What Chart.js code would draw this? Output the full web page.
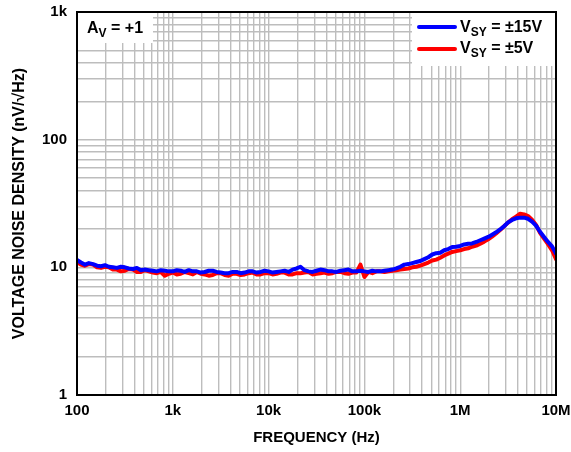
<!DOCTYPE html>
<html><head><meta charset="utf-8">
<script src="https://cdn.jsdelivr.net/npm/chart.js@4/dist/chart.umd.min.js"></script>
<style>html,body{margin:0;padding:0;background:#fff}#wrap{width:571px;height:452px;position:relative}</style>
</head><body><div id="wrap"><canvas id="c" width="571" height="452"></canvas></div>
<script>
const freqHz = [
 100,110,121,133,147,162,178,196,215,237,261,287,316,348,383,422,464,511,562,619,681,750,825,909,
 1000,1100,1210,1330,1470,1620,1780,1960,2150,2370,2610,2870,3160,3480,3830,4220,4640,5110,5620,6190,6810,7500,8250,9090,
 10000,11000,12100,13300,14700,16200,17800,19600,21500,23700,26100,28700,31600,34800,38300,42200,46400,51100,56200,61900,68100,75000,82500,90900,
 100000,110000,121000,133000,147000,162000,178000,196000,215000,237000,261000,287000,316000,348000,383000,422000,464000,511000,562000,619000,681000,750000,825000,909000,
 1000000,1100000,1210000,1330000,1470000,1620000,1780000,1960000,2150000,2370000,2610000,2870000,3160000,3480000,3830000,4220000,4640000,5110000,5620000,6190000,6810000,7500000,8250000,9090000,
 10000000];
const noise15V = [
 11.4,10.9,10.5,10.8,10.6,10.3,10.2,10.4,10.1,10.0,9.9,10.1,10.0,9.8,9.7,9.9,9.5,9.6,9.5,9.4,9.3,9.5,9.4,9.3,
 9.3,9.5,9.4,9.2,9.5,9.3,9.3,9.1,9.2,9.4,9.4,9.2,9.1,9.0,9.0,9.2,9.2,9.0,9.1,9.3,9.3,9.1,9.2,9.4,
 9.3,9.1,9.2,9.3,9.4,9.2,9.6,9.8,10.1,9.5,9.3,9.2,9.4,9.6,9.5,9.3,9.3,9.2,9.4,9.5,9.6,9.3,9.3,9.4,
 9.3,9.2,9.4,9.3,9.3,9.4,9.5,9.6,9.8,10.1,10.5,10.6,10.8,11.0,11.2,11.6,12.0,12.6,12.9,13.0,13.6,13.9,14.4,14.5,
 14.7,15.1,15.3,15.4,15.8,16.3,16.8,17.3,18.0,18.8,19.8,21.0,22.5,23.5,24.2,24.5,24.5,24.0,22.8,21.2,19.0,17.3,15.8,14.6,
 12.8];
const noise5V = [
 11.0,10.5,10.3,10.6,10.5,10.0,9.9,10.1,10.0,9.6,9.6,9.3,9.4,9.7,9.6,9.2,9.2,9.5,9.3,9.1,9.0,9.2,8.6,8.9,
 9.1,8.8,8.9,9.2,9.0,8.8,9.2,8.9,8.8,8.6,8.7,9.0,9.0,8.7,8.6,8.9,8.9,8.7,8.8,9.0,9.1,8.8,8.8,9.0,
 9.0,8.8,8.9,9.1,9.1,8.8,8.8,9.0,9.0,9.1,9.2,8.8,8.9,9.0,9.1,8.9,9.0,9.2,9.2,9.0,8.9,9.1,9.1,10.5,
 8.4,9.2,9.0,9.3,9.3,9.2,9.3,9.4,9.5,9.6,9.7,9.8,10.0,10.1,10.3,10.6,10.9,11.3,11.5,11.9,12.4,12.8,13.2,13.4,
 13.6,13.9,14.1,14.5,14.8,15.3,15.9,16.6,17.4,18.4,19.6,21.0,22.4,23.8,25.0,26.3,26.0,25.2,23.6,21.5,18.6,16.8,15.2,13.6,
 11.6];
const seriesNames = ['±15V','±5V'];
const xGrid = [100,200,300,400,500,600,700,800,900,1000,2000,3000,4000,5000,6000,7000,8000,9000,
 10000,20000,30000,40000,50000,60000,70000,80000,90000,100000,200000,300000,400000,500000,600000,700000,800000,900000,
 1000000,2000000,3000000,4000000,5000000,6000000,7000000,8000000,9000000,10000000];
const xTickValues = [100,1000,10000,100000,1000000,10000000];
const xTickLabels = ['100','1k','10k','100k','1M','10M'];
const yGrid = [1,2,3,4,5,6,7,8,9,10,20,30,40,50,60,70,80,90,100,200,300,400,500,600,700,800,900,1000];
const yTickValues = [1,10,100,1000];
const yTickLabels = ['1','10','100','1k'];

const FONT = '"Liberation Sans", Arial, Helvetica, sans-serif';

function subText(ctx, x, y, main, sub, rest, size) {
  ctx.font = 'bold ' + size + 'px ' + FONT;
  ctx.fillText(main, x, y);
  let w = ctx.measureText(main).width;
  ctx.font = 'bold ' + Math.round(size * 0.75) + 'px ' + FONT;
  ctx.fillText(sub, x + w, y + 4);
  w += ctx.measureText(sub).width;
  ctx.font = 'bold ' + size + 'px ' + FONT;
  ctx.fillText(rest, x + w, y);
}

const decor = {
  id: 'decor',
  beforeDatasetsDraw(chart) {
    const ctx = chart.ctx, a = chart.chartArea;
    ctx.save();
    ctx.fillStyle = '#fff';
    ctx.fillRect(a.left + 1, a.top + 1, 75, 30);
    ctx.fillRect(a.right - 144, a.top + 1, 143, 53);
    ctx.restore();
  },
  afterDatasetsDraw(chart) {
    const ctx = chart.ctx, a = chart.chartArea;
    ctx.save();
    ctx.strokeStyle = '#000'; ctx.lineWidth = 2;
    ctx.strokeRect(a.left, a.top, a.right - a.left, a.bottom - a.top);
    ctx.fillStyle = '#000';
    ctx.textBaseline = 'alphabetic'; ctx.textAlign = 'left';
    subText(ctx, a.left + 10, a.top + 21, 'A', 'V', ' = +1', 16);
    const cols = ['#0000ff', '#ff0000'];
    const lineY = [27, 49], textY = [32, 53];
    for (let i = 0; i < 2; i++) {
      ctx.strokeStyle = cols[i]; ctx.lineWidth = 4; ctx.lineCap = 'round';
      ctx.beginPath(); ctx.moveTo(a.right - 137, lineY[i]); ctx.lineTo(a.right - 101, lineY[i]); ctx.stroke();
      ctx.fillStyle = '#000';
      subText(ctx, a.right - 96, textY[i], 'V', 'SY', ' = ' + seriesNames[i], 16);
    }
    ctx.font = 'bold 15px ' + FONT;
    ctx.textAlign = 'center'; ctx.textBaseline = 'middle';
    ctx.fillText('FREQUENCY (Hz)', (a.left + a.right) / 2, 438);
    ctx.font = 'bold 16px ' + FONT;
    ctx.translate(20, (a.top + a.bottom) / 2);
    ctx.rotate(-Math.PI / 2);
    ctx.fillText('VOLTAGE NOISE DENSITY (nV/\u221AHz)', 0, 0);
    ctx.restore();
  }
};

const pts = (ys) => freqHz.map((f, i) => ({x: f, y: ys[i]}));

new Chart(document.getElementById('c'), {
  type: 'scatter',
  data: {
    datasets: [
      {label: 'VSY = ±15V', data: pts(noise15V), showLine: true, borderColor: '#0000ff', borderWidth: 4, pointRadius: 0, borderJoinStyle: 'round', borderCapStyle: 'round', tension: 0},
      {label: 'VSY = ±5V', data: pts(noise5V), showLine: true, borderColor: '#ff0000', borderWidth: 4, pointRadius: 0, borderJoinStyle: 'round', borderCapStyle: 'round', tension: 0}
    ]
  },
  options: {
    responsive: false, animation: false,
    layout: {padding: {left: 0, top: 12, right: 15, bottom: 0}},
    plugins: {legend: {display: false}, tooltip: {enabled: false}},
    scales: {
      x: {
        type: 'logarithmic', min: 100, max: 10000000,
        afterBuildTicks(s) { s.ticks = xGrid.map(v => ({value: v})); },
        afterFit(s) { s.height = 57; s.paddingLeft = 0; s.paddingRight = 0; },
        grid: {color: '#bdbdbd', lineWidth: 1.4, drawTicks: false},
        border: {display: false},
        ticks: {autoSkip: false, maxRotation: 0, padding: 7, color: '#000',
          font: {family: FONT, size: 15, weight: 'bold'},
          callback(v) { const i = xTickValues.indexOf(v); return i >= 0 ? xTickLabels[i] : ''; }}
      },
      y: {
        type: 'logarithmic', min: 1, max: 1000,
        afterBuildTicks(s) { s.ticks = yGrid.map(v => ({value: v})); },
        afterFit(s) { s.width = 77; s.paddingTop = 0; s.paddingBottom = 0; },
        grid: {color: '#bdbdbd', lineWidth: 1.4, drawTicks: false},
        border: {display: false},
        ticks: {autoSkip: false, padding: 10, color: '#000',
          font: {family: FONT, size: 15, weight: 'bold'},
          callback(v) { const i = yTickValues.indexOf(v); return i >= 0 ? yTickLabels[i] : ''; }}
      }
    }
  },
  plugins: [decor]
});
</script></body></html>
